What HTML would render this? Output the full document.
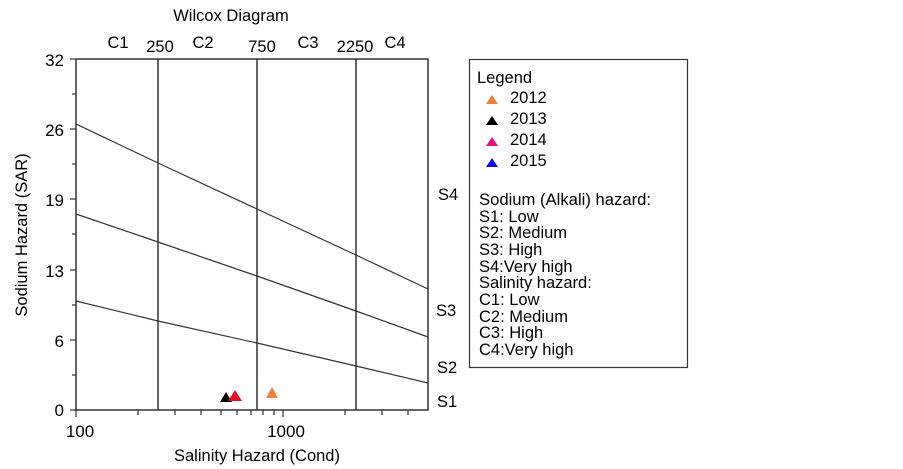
<!DOCTYPE html>
<html><head><meta charset="utf-8"><style>
html,body{margin:0;padding:0;background:#fff;}
svg{display:block;font-family:"Liberation Sans",Arial,sans-serif;}
</style></head><body>
<svg width="903" height="469" viewBox="0 0 903 469" xmlns="http://www.w3.org/2000/svg">
<rect width="903" height="469" fill="#fff"/>
<text x="231" y="21" font-size="16.5" text-anchor="middle">Wilcox Diagram</text>
<g font-size="16.5" text-anchor="middle">
<text x="118" y="48">C1</text><text x="160" y="52">250</text>
<text x="203" y="48">C2</text><text x="262" y="52">750</text>
<text x="308" y="48">C3</text><text x="355" y="52">2250</text>
<text x="395" y="48">C4</text>
</g>
<g stroke="#333" stroke-width="1.5" fill="none">
<rect x="76" y="59" width="352" height="351"/>
<line x1="158" y1="59" x2="158" y2="410"/>
<line x1="257" y1="59" x2="257" y2="410"/>
<line x1="356" y1="59" x2="356" y2="410"/>
</g>
<g stroke="#333" stroke-width="1.2" fill="none">
<polyline points="76,124 158,163 257,209 356,255 428,289"/>
<polyline points="76,214 158,242 257,276 356,311 428,337"/>
<polyline points="76,301 158,321 257,343 356,366 428,383"/>
</g>
<g stroke="#333" stroke-width="1.2">
<line x1="70" y1="59" x2="76" y2="59"/><line x1="72" y1="94" x2="76" y2="94"/>
<line x1="70" y1="129" x2="76" y2="129"/><line x1="72" y1="164" x2="76" y2="164"/>
<line x1="70" y1="199" x2="76" y2="199"/><line x1="72" y1="234" x2="76" y2="234"/>
<line x1="70" y1="270" x2="76" y2="270"/><line x1="72" y1="305" x2="76" y2="305"/>
<line x1="70" y1="340" x2="76" y2="340"/><line x1="72" y1="375" x2="76" y2="375"/>
<line x1="70" y1="410" x2="76" y2="410"/>
<line x1="76" y1="410" x2="76" y2="417"/><line x1="283" y1="410" x2="283" y2="417"/>
<line x1="138" y1="410" x2="138" y2="415"/><line x1="175" y1="410" x2="175" y2="415"/>
<line x1="201" y1="410" x2="201" y2="415"/><line x1="221" y1="410" x2="221" y2="415"/>
<line x1="237" y1="410" x2="237" y2="415"/><line x1="251" y1="410" x2="251" y2="415"/>
<line x1="263" y1="410" x2="263" y2="415"/><line x1="274" y1="410" x2="274" y2="415"/>
<line x1="345" y1="410" x2="345" y2="415"/><line x1="382" y1="410" x2="382" y2="415"/>
<line x1="408" y1="410" x2="408" y2="415"/>
</g>
<g font-size="17" text-anchor="end">
<text x="64" y="66">32</text><text x="64" y="136">26</text><text x="64" y="206">19</text>
<text x="64" y="277">13</text><text x="64" y="347">6</text><text x="64" y="416">0</text>
</g>
<text x="80" y="437" font-size="17" text-anchor="middle">100</text>
<text x="286" y="437" font-size="17" text-anchor="middle">1000</text>
<text x="257" y="461" font-size="16.5" text-anchor="middle">Salinity Hazard (Cond)</text>
<text transform="translate(27,235) rotate(-90)" font-size="16.5" text-anchor="middle">Sodium Hazard (SAR)</text>
<g font-size="16.5">
<text x="438" y="200">S4</text><text x="436" y="316">S3</text>
<text x="437" y="373">S2</text><text x="437" y="407">S1</text>
</g>
<polygon points="272,387 266,398 278,398" fill="#f08040"/>
<polygon points="226,392 220,402 232,402" fill="#000"/>
<polygon points="235,390 228,401 242,401" fill="#e0102a"/>
<rect x="469.5" y="59.5" width="218" height="308" fill="none" stroke="#333" stroke-width="1.2"/>
<g font-size="16.5">
<text x="477" y="83">Legend</text>
<text x="510" y="103">2012</text><text x="510" y="124">2013</text>
<text x="510" y="145">2014</text><text x="510" y="166">2015</text>
</g>
<polygon points="492,95 486,104 498,104" fill="#f08040"/>
<polygon points="492,116 486,125 498,125" fill="#000"/>
<polygon points="492,137 486,146 498,146" fill="#e8107a"/>
<polygon points="492,158 486,167 498,167" fill="#1010e0"/>
<g font-size="16.5">
<text x="479" y="205" textLength="172" lengthAdjust="spacingAndGlyphs">Sodium (Alkali) hazard:</text>
<text x="479" y="222">S1: Low</text>
<text x="479" y="238">S2: Medium</text>
<text x="479" y="255">S3: High</text>
<text x="479" y="272">S4:Very high</text>
<text x="479" y="288">Salinity hazard:</text>
<text x="479" y="305">C1: Low</text>
<text x="479" y="322">C2: Medium</text>
<text x="479" y="338">C3: High</text>
<text x="479" y="355">C4:Very high</text>
</g>
</svg>
</body></html>
